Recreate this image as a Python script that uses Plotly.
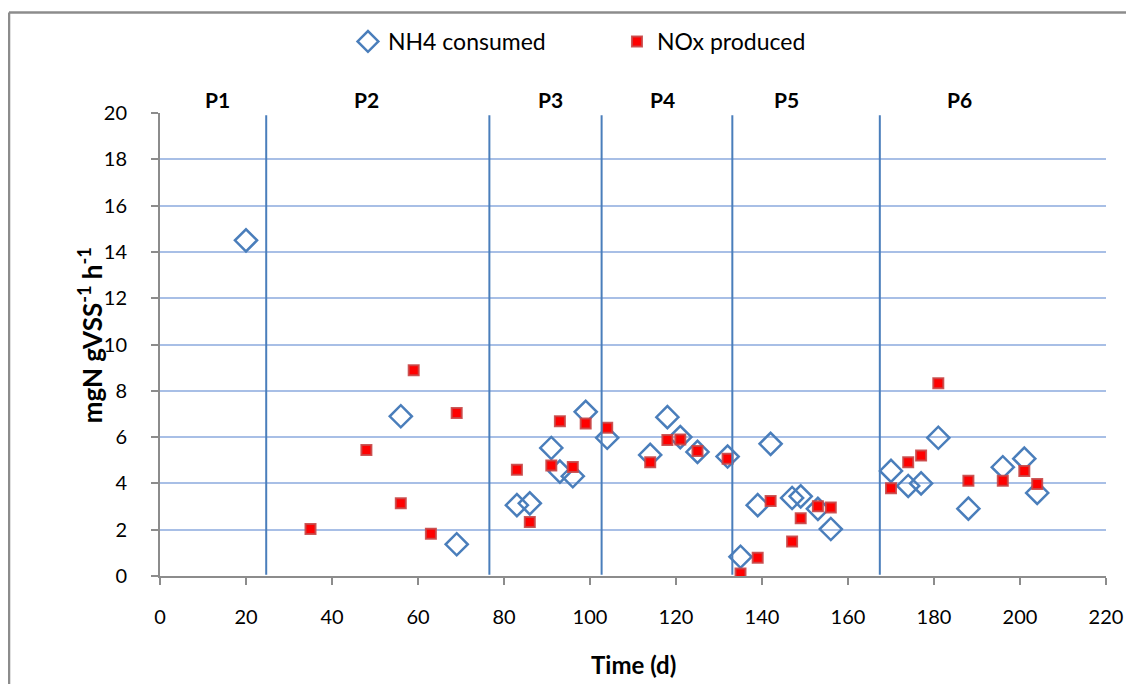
import plotly.graph_objects as go

# ---- data ----
nh4_days = [20, 56, 69, 83, 86, 91, 93, 96, 99, 104, 114, 118, 121, 125, 132, 135, 139,
            142, 147, 149, 153, 156, 170, 174, 177, 181, 188, 196, 201, 204]
nh4_vals = [14.5, 6.9, 1.37, 3.06, 3.14, 5.53, 4.51, 4.31, 7.09, 5.97, 5.23, 6.86, 6.0,
            5.36, 5.16, 0.83, 3.06, 5.71, 3.37, 3.44, 2.9, 2.03, 4.54, 3.89, 4.0, 5.97,
            2.91, 4.7, 5.07, 3.59]

nox_days = [35, 48, 56, 59, 63, 69, 83, 86, 91, 93, 96, 99, 104, 114, 118, 121, 125, 132,
            135, 139, 142, 147, 149, 153, 156, 170, 174, 177, 181, 188, 196, 201, 204]
nox_vals = [2.03, 5.44, 3.14, 8.89, 1.83, 7.04, 4.59, 2.33, 4.77, 6.69, 4.71, 6.59, 6.4,
            4.91, 5.87, 5.9, 5.4, 5.07, 0.11, 0.79, 3.24, 1.49, 2.49, 3.01, 2.96, 3.79,
            4.91, 5.2, 8.33, 4.11, 4.11, 4.54, 3.97]

period_bounds = [24.7, 76.6, 102.7, 133.1, 167.4]
period_labels = ["P1", "P2", "P3", "P4", "P5", "P6"]
period_label_x = [13.4, 48.1, 90.8, 116.9, 145.7, 186.0]

x_ticks = list(range(0, 221, 20))
y_ticks = list(range(0, 21, 2))

FONT = "Lato, 'Open Sans', sans-serif"
GRID = "#a8bfe6"
PERIOD = "#4a7ebb"
AXIS = "#8c8c8c"

fig = go.Figure()
fig.add_trace(go.Scatter(
    x=nh4_days, y=nh4_vals, mode="markers", name="NH4 consumed",
    marker=dict(symbol="diamond-open", size=17, color="#4a7ebb",
                line=dict(width=2.5, color="#4a7ebb")),
))
fig.add_trace(go.Scatter(
    x=nox_days, y=nox_vals, mode="markers", name="NOx produced",
    marker=dict(symbol="square", size=10, color="#ff0000",
                line=dict(width=2, color="rgba(200,70,70,0.9)")),
))

shapes = []
for b in period_bounds:
    shapes.append(dict(type="line", xref="x", yref="y", x0=b, x1=b, y0=0.05, y1=19.9,
                       line=dict(color=PERIOD, width=2)))
# outer chart border (top and left edges visible)
shapes.append(dict(type="line", xref="paper", yref="paper", x0=-0.1596, x1=1.05,
                   y0=1.2168, y1=1.2168, line=dict(color=AXIS, width=2.5)))
shapes.append(dict(type="line", xref="paper", yref="paper", x0=-0.1596, x1=-0.1596,
                   y0=1.2168, y1=-0.25, line=dict(color=AXIS, width=2.5)))

annotations = []
for lab, lx in zip(period_labels, period_label_x):
    annotations.append(dict(x=lx, y=1.030, xref="x", yref="paper", text="<b>%s</b>" % lab,
                            showarrow=False, xanchor="center", yanchor="middle",
                            font=dict(family=FONT, size=21, color="black")))
annotations.append(dict(x=-0.074, y=0.52, xref="paper", yref="paper", textangle=-90,
                        xanchor="center", yanchor="middle",
                        text="<b>mgN gVSS<sup>-1</sup> h<sup>-1</sup></b>", showarrow=False,
                        font=dict(family=FONT, size=26, color="black")))
annotations.append(dict(x=0.5, y=-0.191, xref="paper", yref="paper",
                        xanchor="center", yanchor="middle",
                        text="<b>Time (d)</b>", showarrow=False,
                        font=dict(family=FONT, size=24, color="black")))

fig.update_layout(
    width=1126, height=676,
    margin=dict(l=152, r=28, t=102, b=108),
    paper_bgcolor="white", plot_bgcolor="white",
    font=dict(family=FONT, size=20, color="black"),
    showlegend=True,
    legend=dict(orientation="h", x=0.1987, xanchor="left", y=1.1545, yanchor="middle",
                font=dict(family=FONT, size=23, color="black"), bgcolor="rgba(0,0,0,0)",
                itemwidth=30, entrywidth=224),
    shapes=shapes, annotations=annotations,
)
fig.update_xaxes(range=[0, 220], tickmode="array", tickvals=x_ticks,
                 showgrid=False, zeroline=False, showline=True, linecolor=AXIS, linewidth=2,
                 ticks="outside", ticklen=7, tickcolor=AXIS, tickwidth=2,
                 ticklabelstandoff=15, tickfont=dict(family=FONT, size=20, color="black"))
fig.update_yaxes(range=[0, 20], tickmode="array", tickvals=y_ticks,
                 showgrid=True, gridcolor=GRID, gridwidth=1.5, zeroline=False,
                 showline=True, linecolor=AXIS, linewidth=2,
                 ticks="outside", ticklen=7, tickcolor=AXIS, tickwidth=2,
                 ticklabelstandoff=20, tickfont=dict(family=FONT, size=20, color="black"))

fig.write_html("out.html")
